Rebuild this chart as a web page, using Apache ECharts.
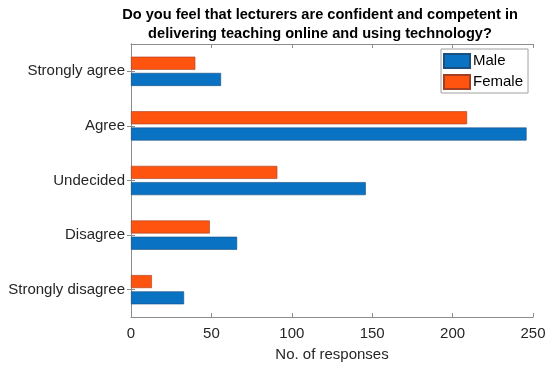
<!DOCTYPE html>
<html><head><meta charset="utf-8">
<script src="https://cdn.jsdelivr.net/npm/echarts@6/dist/echarts.min.js"></script>
<style>html,body{margin:0;padding:0;background:#fff}#c{width:550px;height:368px}</style>
</head><body><div id="c"></div>
<script>
const categories = ['Strongly agree', 'Agree', 'Undecided', 'Disagree', 'Strongly disagree'];
const maleValues = [56, 246, 146, 66, 33];
const femaleValues = [40, 209, 91, 49, 13];
const xTicks = [0, 50, 100, 150, 200, 250];

const chart = echarts.init(document.getElementById('c'), null, {renderer: 'canvas'});
const font = 'Liberation Sans';
const axisCol = '#8c8c8c';
chart.setOption({
  animation: false,
  title: {
    text: 'Do you feel that lecturers are confident and competent in\ndelivering teaching online and using technology?',
    left: 315, top: 0, textAlign: 'center',
    textStyle: {fontFamily: font, fontSize: 14.6, fontWeight: 'bold', color: '#000', lineHeight: 19}
  },
  legend: {
    data: ['Male', 'Female'],
    orient: 'vertical', left: 441, top: 49,
    itemWidth: 26, itemHeight: 14, itemGap: 5,
    padding: [4, 5, 3, 2],
    borderColor: '#a0a0a0', borderWidth: 1, backgroundColor: '#fff',
    textStyle: {fontFamily: font, fontSize: 15, color: '#000', padding: [0, 0, 0, -2]},
    icon: 'rect'
  },
  grid: {left: 131, right: 17, top: 44, bottom: 51},
  xAxis: [{
    type: 'value', min: xTicks[0], max: xTicks[xTicks.length - 1], interval: 50,
    name: 'No. of responses', nameLocation: 'middle', nameGap: 30,
    nameTextStyle: {fontFamily: font, fontSize: 15, color: '#262626'},
    axisLine: {show: true, lineStyle: {color: axisCol}},
    axisTick: {show: true, inside: true, length: 4, lineStyle: {color: axisCol}},
    axisLabel: {fontFamily: font, fontSize: 15, color: '#262626', margin: 9},
    splitLine: {show: false}
  }, {
    type: 'value', position: 'top', min: 0, max: 250, interval: 50,
    axisLine: {show: true, lineStyle: {color: axisCol}},
    axisTick: {show: true, inside: true, length: 4, lineStyle: {color: axisCol}},
    axisLabel: {show: false}, splitLine: {show: false}
  }],
  yAxis: [{
    type: 'category', data: categories, inverse: true,
    axisLine: {show: true, lineStyle: {color: axisCol}},
    axisTick: {show: true, inside: true, alignWithLabel: true, length: 4, lineStyle: {color: axisCol}},
    axisLabel: {fontFamily: font, fontSize: 15, color: '#262626', margin: 6}
  }, {
    type: 'category', data: categories, inverse: true, position: 'right',
    axisLine: {show: true, lineStyle: {color: axisCol}},
    axisTick: {show: true, inside: true, alignWithLabel: true, length: 4, lineStyle: {color: axisCol}},
    axisLabel: {show: false}
  }],
  series: [{
    name: 'Female', type: 'bar', data: femaleValues, barWidth: 13, barGap: '25%',
    itemStyle: {color: '#FF5310', borderColor: '#a04020', borderWidth: 0.6}
  }, {
    name: 'Male', type: 'bar', data: maleValues, barWidth: 13, barGap: '25%',
    itemStyle: {color: '#0A72C2', borderColor: '#1a4f80', borderWidth: 0.6}
  }]
});
</script></body></html>
